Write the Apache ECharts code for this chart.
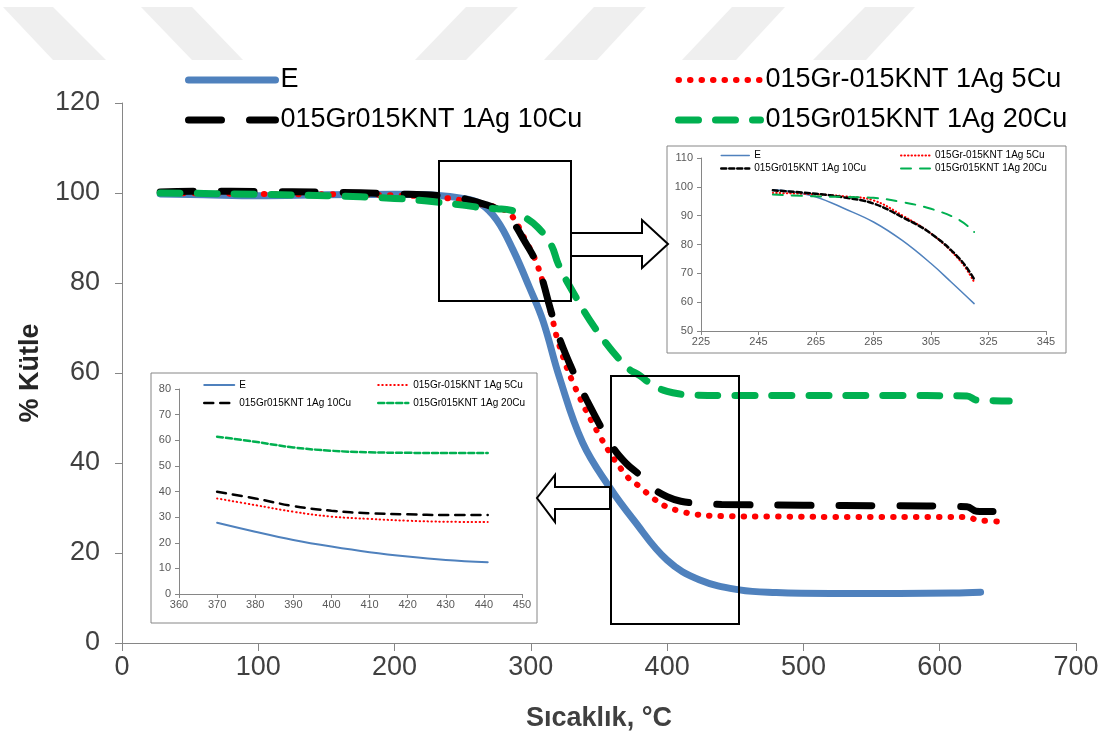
<!DOCTYPE html>
<html><head><meta charset="utf-8">
<script src="https://cdn.jsdelivr.net/npm/echarts@6/dist/echarts.min.js"></script>
<style>html,body{margin:0;padding:0;background:#fff}#c{width:1104px;height:740px}</style>
</head><body><div id="c"></div><script>
// ---- series names ----
const names = ['E', '015Gr-015KNT 1Ag 5Cu', '015Gr015KNT 1Ag 10Cu', '015Gr015KNT 1Ag 20Cu'];

// ---- main chart data [T (°C), % mass] ----
const E_main = [[28,99.8],[60,99.6],[100,99.4],[150,99.6],[200,99.7],[230,99.5],[250,98.8],[263,97.6],[275,94],[287,87.3],[299,79],[309,71.5],[321,59],[338,44.5],[358,34.5],[375,27.5],[400,18.4],[424,14],[453,11.8],[480,11.2],[520,11],[570,11],[610,11.1],[630,11.3]];
const R_main = [[28,100],[100,99.8],[200,99.5],[240,98.8],[255,98],[265,97.4],[275,96.8],[285,95.3],[295,90.1],[305,83.8],[315,73],[320,67],[331,57.8],[351,45.8],[370,37.2],[380,34.7],[390,32.1],[400,30.2],[410,29.3],[420,28.6],[440,28.2],[480,28.1],[540,28],[600,28],[620,28],[628,27.3],[645,27]];
const B_main = [[28,100.2],[60,100.4],[100,100.3],[150,100.2],[200,99.8],[240,99.3],[250,98.8],[265,97.6],[275,96.5],[285,94.2],[295,89.5],[305,83.8],[315,73.5],[320,68.5],[330,61],[341,54],[360,43.6],[370,39.9],[380,37.3],[390,34.3],[400,32.5],[410,31.5],[420,31.1],[440,30.8],[500,30.6],[560,30.5],[620,30.3],[627,29.3],[642,29.2]];
const G_main = [[28,100],[60,99.9],[100,99.7],[150,99.4],[200,98.8],[224,98.2],[250,97.3],[265,96.7],[275,96.5],[285,96.2],[295,94.7],[305,92.4],[315,88.4],[320,84.3],[329,79],[348,69.6],[370,61.4],[380,59.4],[390,57.2],[400,55.9],[410,55.3],[420,55.1],[440,55],[500,55],[560,55],[620,54.9],[627,54],[651,53.8]];

// ---- inset 1 (225–345 °C) ----
const E_in1 = [[250,99],[255,98.6],[265,96.5],[275,92.4],[285,87.8],[295,81.4],[305,73.4],[312,67],[320,59.5]];
const R_in1 = [[250,97.9],[265,97.4],[275,96.7],[285,95.3],[295,90.1],[305,83.8],[315,74.5],[320,67]];
const B_in1 = [[250,98.8],[265,97.6],[275,96.3],[285,94.2],[295,89.5],[305,83.8],[315,75],[320,68]];
const G_in1 = [[250,97.3],[265,96.7],[275,96.5],[285,96.2],[295,94.7],[305,92.4],[315,88.4],[320,84.3]];

// ---- inset 2 (360–450 °C) ----
const E_in2 = [[370,27.8],[380,24.3],[390,21.1],[400,18.5],[410,16.3],[420,14.6],[430,13.3],[441,12.4]];
const R_in2 = [[370,37.3],[380,34.7],[390,32.1],[400,30.2],[410,29.3],[420,28.6],[430,28.2],[441,28.1]];
const B_in2 = [[370,39.9],[380,37.3],[390,34.3],[400,32.5],[410,31.5],[420,31.1],[430,30.8],[441,30.8]];
const G_in2 = [[370,61.4],[380,59.4],[390,57.2],[400,55.9],[410,55.3],[420,55.1],[430,55],[441,55]];

const F = '"Liberation Sans", Arial, sans-serif';
const AX = '#868686';
const COL = ['#4F81BD', '#FF0000', '#000000', '#00B050'];

function line(name, data, xi, color, width, type, z) {
  return {
    type: 'line', name: name, data: data, xAxisIndex: xi, yAxisIndex: xi,
    smooth: 0.4, symbol: 'none', showSymbol: false, z: z, silent: true, animation: false,
    lineStyle: { color: color, width: width, type: type, cap: 'round' },
    itemStyle: { color: color }
  };
}

const series = [
  line(names[0], E_main, 0, COL[0], 7, 'solid', 2),
  line(names[1], R_main, 0, COL[1], 6, [0.5, 11], 2),
  line(names[2], B_main, 0, COL[2], 7, [33, 28], 2),
  line(names[3], G_main, 0, COL[3], 7, [20, 17], 2),
  line('a|' + names[0], E_in1, 1, COL[0], 1.5, 'solid', 20),
  line('a|' + names[1], R_in1, 1, COL[1], 2, [0.5, 3], 20),
  line('a|' + names[2], B_in1, 1, COL[2], 2.5, [5, 3], 20),
  line('a|' + names[3], G_in1, 1, COL[3], 2, [10, 9], 20),
  line('b|' + names[0], E_in2, 2, COL[0], 2, 'solid', 20),
  line('b|' + names[1], R_in2, 2, COL[1], 2, [0.5, 3.5], 20),
  line('b|' + names[2], B_in2, 2, COL[2], 2.5, [9, 7], 20),
  line('b|' + names[3], G_in2, 2, COL[3], 2.5, [6, 3], 20)
];

function axisCommon(fs, color, margin, tickLen, z) {
  return {
    type: 'value', z: z,
    axisLine: { show: true, onZero: false, lineStyle: { color: AX, width: 1 } },
    axisTick: { show: true, inside: false, length: tickLen, lineStyle: { color: AX, width: 1 } },
    splitLine: { show: false },
    axisLabel: { fontSize: fs, color: color, fontFamily: F, margin: margin }
  };
}

const xMain = Object.assign(axisCommon(27, '#404040', 11, 8, 1), {
  gridIndex: 0, min: 0, max: 700, interval: 100,
  name: 'Sıcaklık, °C', nameLocation: 'middle', nameGap: 62,
  nameTextStyle: { fontSize: 27, fontWeight: 'bold', color: '#404040', fontFamily: F }
});
const yMain = Object.assign(axisCommon(27, '#404040', 22, 7, 1), {
  gridIndex: 0, min: 0, max: 120, interval: 20,
  name: '% Kütle', nameLocation: 'middle', nameGap: 78,
  nameTextStyle: { fontSize: 27, fontWeight: 'bold', color: '#262626', fontFamily: F }
});
const x1 = Object.assign(axisCommon(11, '#595959', 5, 4, 20), { gridIndex: 1, min: 225, max: 345, interval: 20 });
const y1 = Object.assign(axisCommon(11, '#595959', 8, 4, 20), { gridIndex: 1, min: 50, max: 110, interval: 10 });
const x2 = Object.assign(axisCommon(11, '#595959', 5, 4, 20), { gridIndex: 2, min: 360, max: 450, interval: 10 });
const y2 = Object.assign(axisCommon(11, '#595959', 8, 4, 20), { gridIndex: 2, min: 0, max: 80, interval: 10 });

function legend(items, left, top, itemW, fs, lh, gap, z, strip) {
  return {
    data: items, orient: 'vertical', left: left, top: top, itemWidth: itemW, itemHeight: 8,
    itemGap: gap, selectedMode: false, z: z, padding: 0,
    textStyle: { fontSize: fs, lineHeight: lh, color: '#000', fontFamily: F },
    itemStyle: { opacity: 0 },
    lineStyle: { width: 'inherit', opacity: 1 },
    formatter: strip ? function (n) { return n.split('|')[1]; } : null
  };
}

const wm = [
  [[3,7],[53,7],[106,60],[53,60]],
  [[141,7],[192,7],[243,60],[192,60]],
  [[466,7],[518,7],[466,60],[415,60]],
  [[594,7],[646,7],[597,60],[544,60]],
  [[732,7],[785,7],[736,60],[682,60]],
  [[865,7],[915,7],[866,60],[813,60]]
];

const graphics = [];
wm.forEach(function (p) {
  graphics.push({ type: 'polygon', silent: true, z: 0, shape: { points: p }, style: { fill: '#efefef' } });
});
graphics.push({ type: 'rect', silent: true, z: 5, shape: { x: 667, y: 146, width: 399, height: 207 }, style: { fill: '#fff', stroke: AX, lineWidth: 1 } });
graphics.push({ type: 'rect', silent: true, z: 5, shape: { x: 151, y: 373, width: 386, height: 250 }, style: { fill: '#fff', stroke: AX, lineWidth: 1 } });
graphics.push({ type: 'rect', silent: true, z: 6, shape: { x: 439, y: 161, width: 132, height: 140 }, style: { fill: null, stroke: '#000', lineWidth: 2 } });
graphics.push({ type: 'rect', silent: true, z: 6, shape: { x: 611, y: 376, width: 128, height: 248 }, style: { fill: null, stroke: '#000', lineWidth: 2 } });
graphics.push({ type: 'polygon', silent: true, z: 6, shape: { points: [[571,233],[642,233],[642,220],[668,244],[642,268],[642,256],[571,256]] }, style: { fill: '#fff', stroke: '#000', lineWidth: 2 } });
graphics.push({ type: 'polygon', silent: true, z: 6, shape: { points: [[610,487],[555,487],[555,475],[537,498],[555,522],[555,509],[610,509]] }, style: { fill: '#fff', stroke: '#000', lineWidth: 2 } });

const option = {
  animation: false,
  backgroundColor: '#fff',
  grid: [
    { left: 122, top: 103, width: 954, height: 540, containLabel: false },
    { left: 701, top: 158, width: 345, height: 173, containLabel: false },
    { left: 179, top: 389, width: 343, height: 205, containLabel: false }
  ],
  xAxis: [xMain, x1, x2],
  yAxis: [yMain, y1, y2],
  legend: [
    legend([names[0], names[2]], 185, 63, 87, 27, 34, 6, 4, false),
    legend([names[1], names[3]], 675, 63, 82, 27, 34, 6, 4, false),
    legend(['a|' + names[0], 'a|' + names[2]], 720, 149, 28, 10, 13, 0, 20, true),
    legend(['a|' + names[1], 'a|' + names[3]], 900, 149, 29, 10, 13, 0, 20, true),
    legend(['b|' + names[0], 'b|' + names[2]], 203, 378, 30, 10, 14, 4, 20, true),
    legend(['b|' + names[1], 'b|' + names[3]], 377, 378, 30, 10, 14, 4, 20, true)
  ],
  graphic: { elements: graphics },
  series: series
};

const chart = echarts.init(document.getElementById('c'), null, { renderer: 'canvas' });
chart.setOption(option);
</script></body></html>
